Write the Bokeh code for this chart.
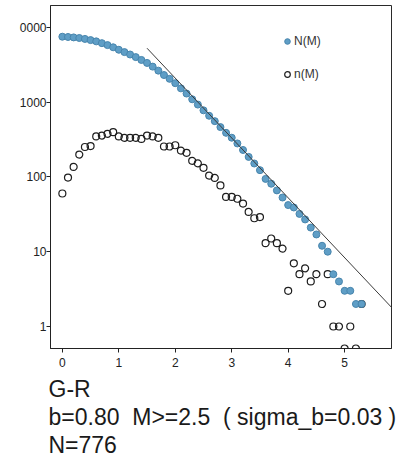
from bokeh.plotting import figure
from bokeh.models import Range1d, FixedTicker, Legend, LegendItem, Title, ColumnDataSource
from bokeh.embed import file_html
from bokeh.resources import INLINE

# ---- data ----
magnitude = [0.0, 0.1, 0.2, 0.3, 0.4, 0.5, 0.6, 0.7, 0.8, 0.9,
             1.0, 1.1, 1.2, 1.3, 1.4, 1.5, 1.6, 1.7, 1.8, 1.9,
             2.0, 2.1, 2.2, 2.3, 2.4, 2.5, 2.6, 2.7, 2.8, 2.9,
             3.0, 3.1, 3.2, 3.3, 3.4, 3.5, 3.6, 3.7, 3.8, 3.9,
             4.0, 4.1, 4.2, 4.3, 4.4, 4.5, 4.6, 4.7, 4.8, 4.9,
             5.0, 5.1, 5.2, 5.3]

# cumulative count N(M)
N_cum = [7481, 7421, 7324, 7190, 6991, 6740, 6482, 6135, 5778, 5401,
         5005, 4658, 4325, 3992, 3659, 3337, 2980, 2633, 2300, 2045,
         1790, 1525, 1300, 1090, 926, 776, 656, 556, 463, 388,
         334, 280, 229, 185, 151, 123, 94, 81, 66, 53,
         42, 39, 32, 27, 21, 17, 12, 10, 5, 4,
         3, 3, 2, 2]

# count per bin n(M)
n_bin = [60, 98, 136, 199, 251, 258, 347, 357, 377, 396,
         347, 333, 333, 333, 322, 357, 347, 333, 255, 255,
         265, 225, 210, 164, 152, 132, 104, 97, 77, 54,
         54, 51, 44, 34, 28, 29, 13, 15, 13, 11,
         3, 7, 5, 6, 4, 5, 2, 5, 1, 1,
         0, 1, 0, 2]

# Gutenberg-Richter fit: log10 N = a - b M
fit_a = 4.92
fit_b = 0.80
fit_m = [1.5, 5.9]

y_ticks = [1, 10, 100, 1000, 10000]
y_tick_labels = {1: "1", 10: "10", 100: "100", 1000: "1000", 10000: "0000"}
x_ticks = [0, 1, 2, 3, 4, 5]

info_lines = ["G-R", "b=0.80 \u00a0M>=2.5 \u00a0( sigma_b=0.03 )", "N=776"]
info_pad_top = [4, 0, 0]

# ---- plot ----
Y_LO, Y_HI = 0.508, 19550
W, H = 415, 459
p = figure(width=W, height=H, y_axis_type="log",
           x_range=Range1d(-0.21, 5.83), y_range=Range1d(Y_LO, Y_HI),
           output_backend="svg", toolbar_location=None,
           min_border_left=50, min_border_right=24,
           min_border_top=5, min_border_bottom=111)
p.background_fill_color = "white"
p.border_fill_color = "white"
p.outline_line_color = "#2a2a2a"
p.outline_line_width = 1
p.xgrid.visible = False
p.ygrid.visible = False

n_plot = [v if v > 0 else Y_LO for v in n_bin]
src = ColumnDataSource(dict(m=magnitude, N=N_cum, n=n_plot))

r_n = p.scatter("m", "n", source=src, size=7, marker="circle",
                fill_color="white", fill_alpha=0.0,
                line_color="#1e1e1e", line_width=1.2)
r_N = p.scatter("m", "N", source=src, size=7, marker="circle",
                fill_color="#5f9ec6", line_color="#4785ad", line_width=1)

fit_y = [10 ** (fit_a - fit_b * m) for m in fit_m]
p.line(fit_m, fit_y, line_color="#3a3a3a", line_width=1)

for ax in (p.xaxis[0], p.yaxis[0]):
    ax.axis_line_color = "#222222"
    ax.major_tick_line_color = "#222222"
    ax.major_tick_out = 4
    ax.major_tick_in = 0
    ax.minor_tick_out = 0
    ax.minor_tick_in = 0
    ax.major_label_text_font = "Liberation Sans"
    ax.major_label_text_font_size = "12px"
    ax.major_label_text_color = "#222222"

p.xaxis[0].ticker = FixedTicker(ticks=x_ticks, minor_ticks=[])
p.xaxis[0].major_label_standoff = 5
p.yaxis[0].ticker = FixedTicker(ticks=y_ticks, minor_ticks=[])
p.yaxis[0].major_label_overrides = y_tick_labels
p.yaxis[0].major_label_standoff = 0

legend = Legend(items=[LegendItem(label="N(M)", renderers=[r_N]),
                       LegendItem(label="n(M)", renderers=[r_n])],
                location=(230, 266), orientation="vertical",
                glyph_width=14, glyph_height=16, label_standoff=0,
                spacing=17, padding=0, margin=0,
                label_text_font="Liberation Sans", label_text_font_size="12px",
                label_text_color="#333333",
                background_fill_alpha=0.0, border_line_alpha=0.0)
p.add_layout(legend, "center")

# ---- text block below the axis, as stacked titles ----
for txt, pad in zip(info_lines, info_pad_top):
    p.add_layout(Title(text=txt, align="left", offset=-2, standoff=0,
                       padding=dict(top=pad, right=0, bottom=0, left=0),
                       text_font="Liberation Sans", text_font_size="23px",
                       text_font_style="normal", text_color="#1a1a1a"), "below")

open("out.html", "w").write(file_html(p, INLINE))
